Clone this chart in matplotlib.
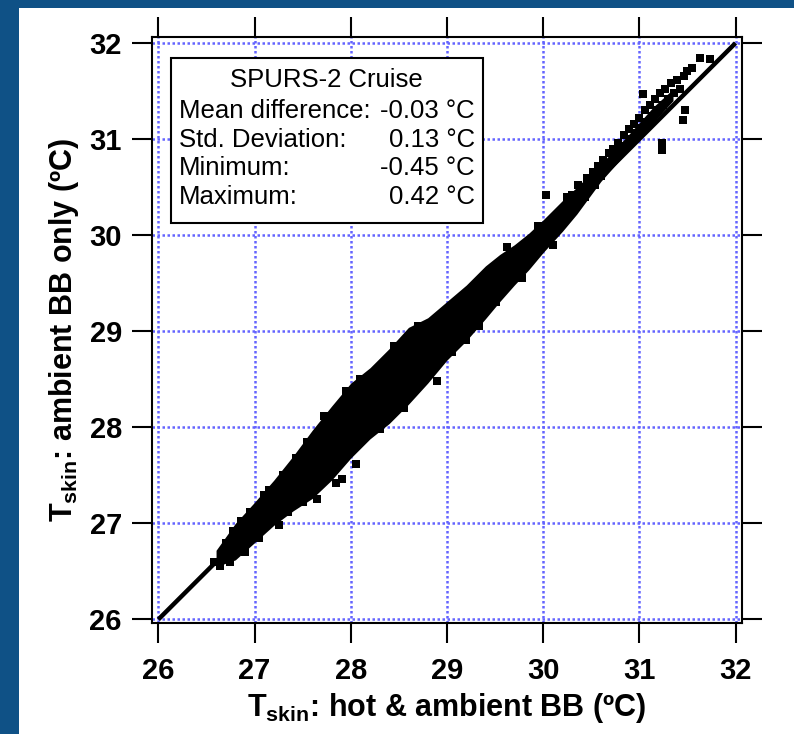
"""SPURS-2 cruise: skin temperature, ambient-BB-only vs hot & ambient BB calibration."""

import matplotlib
matplotlib.use("Agg")
import matplotlib.pyplot as plt
from matplotlib.patches import Rectangle

# Dense core of the cloud: x, lower y, upper y (deg C)
cloud_x = [26.60, 26.80, 27.00, 27.20, 27.40, 27.60, 27.80, 28.00, 28.20, 28.40,
           28.60, 28.80, 29.00, 29.20, 29.40, 29.55, 29.70, 29.85, 30.00, 30.20,
           30.35, 30.60, 30.90, 31.15, 31.35]
cloud_lo = [26.55, 26.62, 26.80, 26.98, 27.13, 27.26, 27.45, 27.68, 27.88, 28.04,
            28.24, 28.46, 28.70, 28.90, 29.13, 29.31, 29.48, 29.64, 29.82, 30.04,
            30.22, 30.56, 30.90, 31.18, 31.40]
cloud_hi = [26.72, 27.00, 27.22, 27.45, 27.70, 27.97, 28.22, 28.46, 28.62, 28.82,
            29.04, 29.14, 29.31, 29.48, 29.68, 29.80, 29.90, 30.02, 30.16, 30.36,
            30.50, 30.74, 31.06, 31.34, 31.52]

# Single points: fringe of the core and the sparser warm end
pts_x = [26.58, 26.64, 26.70, 26.74, 26.78, 26.86, 26.90, 26.95, 27.05, 27.10,
         27.15, 27.25, 27.30, 27.35, 27.43, 27.50, 27.55, 27.65, 27.72, 27.85,
         27.91, 27.95, 28.05, 28.10, 28.30, 28.45, 28.55, 28.70, 28.90, 29.05,
         29.20, 29.33, 29.51, 29.62, 29.78, 29.95, 30.03, 30.10, 30.25,
         30.30, 30.33, 30.36, 30.38, 30.41, 30.44, 30.46, 30.49, 30.52, 30.54,
         30.57, 30.60, 30.62, 30.65, 30.68, 30.70, 30.73, 30.76, 30.78, 30.81,
         30.84, 30.86, 30.89, 30.92, 30.94, 30.97, 31.00, 31.03, 31.04, 31.06,
         31.08, 31.11, 31.14, 31.16, 31.19, 31.22, 31.24, 31.24, 31.25, 31.27,
         31.30, 31.33, 31.36, 31.39, 31.42, 31.45, 31.46, 31.47, 31.50, 31.55,
         31.63, 31.73]
pts_y = [26.60, 26.56, 26.80, 26.60, 26.92, 27.02, 26.70, 27.12, 26.85, 27.30,
         27.35, 26.98, 27.50, 27.12, 27.68, 27.22, 27.85, 27.25, 28.12, 27.42,
         27.46, 28.38, 27.62, 28.50, 27.98, 28.85, 28.20, 29.05, 28.48, 28.78,
         28.91, 29.05, 29.30, 29.88, 29.55, 30.10, 30.42, 29.90, 30.40,
         30.42, 30.30, 30.52, 30.36, 30.48, 30.40, 30.60, 30.50, 30.66, 30.52,
         30.72, 30.62, 30.78, 30.70, 30.86, 30.74, 30.90, 30.82, 30.96, 30.88,
         31.04, 30.93, 31.10, 31.00, 31.16, 31.06, 31.22, 31.12, 31.47, 31.30,
         31.18, 31.36, 31.24, 31.42, 31.30, 31.48, 30.96, 30.89, 31.36, 31.52,
         31.42, 31.58, 31.48, 31.62, 31.52, 31.20, 31.66, 31.30, 31.71, 31.74,
         31.84, 31.83]

stats_labels = ["Mean difference:", "Std. Deviation:", "Minimum:", "Maximum:"]
stats_values = ["-0.03 °C", "0.13 °C", "-0.45 °C", "0.42 °C"]
ticks = [26, 27, 28, 29, 30, 31, 32]

plt.rcParams["mathtext.default"] = "regular"
BOLD = dict(family="Liberation Sans", weight="bold")

fig = plt.figure(figsize=(7.94, 7.34), dpi=100, facecolor="#0f5186")
fig.patches.append(Rectangle((19 / 794, 0), 1, (734 - 8) / 734, transform=fig.transFigure,
                             facecolor="white", edgecolor="none", zorder=-10))

ax = fig.add_axes([151.7 / 794, (734 - 623.3) / 734, 589.8 / 794, 586.8 / 734])
ax.set_zorder(2)
ax.set_xlim(25.931, 32.062)
ax.set_ylim(25.96, 32.068)

ax.set_xticks(ticks)
ax.set_yticks(ticks)
ax.grid(True, color="#6464ff", linestyle=(0, (1, 1)), linewidth=1.8)
ax.set_axisbelow(True)

ax.fill_between(cloud_x, cloud_lo, cloud_hi, color="black", linewidth=0, zorder=3)
ax.scatter(pts_x, pts_y, s=26, marker="s", color="black", linewidths=0, zorder=3)
ax.plot([26, 32], [26, 32], color="black", linewidth=3.2, solid_capstyle="butt", zorder=4)

for s in ax.spines.values():
    s.set_linewidth(1.5)
ax.tick_params(which="both", direction="out", length=14.5, width=1.5,
               top=True, right=True, labelsize=21)
ax.tick_params(axis="x", pad=10)
ax.tick_params(axis="y", pad=7)
for lab in ax.get_xticklabels() + ax.get_yticklabels():
    lab.set_fontfamily(BOLD["family"])
    lab.set_fontweight("bold")

ax.set_xlabel("T$_{skin}$: hot & ambient BB (ºC)", fontsize=22, labelpad=4, **BOLD)
ax.set_ylabel("T$_{skin}$: ambient BB only (ºC)", fontsize=22, labelpad=6, **BOLD)

# statistics box
ax.add_patch(Rectangle((0.0322, 0.6827), 0.5295, 0.2802, transform=ax.transAxes,
                       facecolor="white", edgecolor="black", linewidth=1.5, zorder=5))
REG = dict(family="Liberation Sans", fontsize=18.5, zorder=6, transform=ax.transAxes)
ax.text(0.2970, 0.9259, "SPURS-2 Cruise", ha="center", va="center", **REG)
rows_y = [0.8730, 0.8236, 0.7759, 0.7265]
for ry, lab, val in zip(rows_y, stats_labels, stats_values):
    ax.text(0.0468, ry, lab, ha="left", va="center", **REG)
    ax.text(0.5482, ry, val, ha="right", va="center", **REG)

fig.savefig("out.png", dpi=100, facecolor=fig.get_facecolor())
